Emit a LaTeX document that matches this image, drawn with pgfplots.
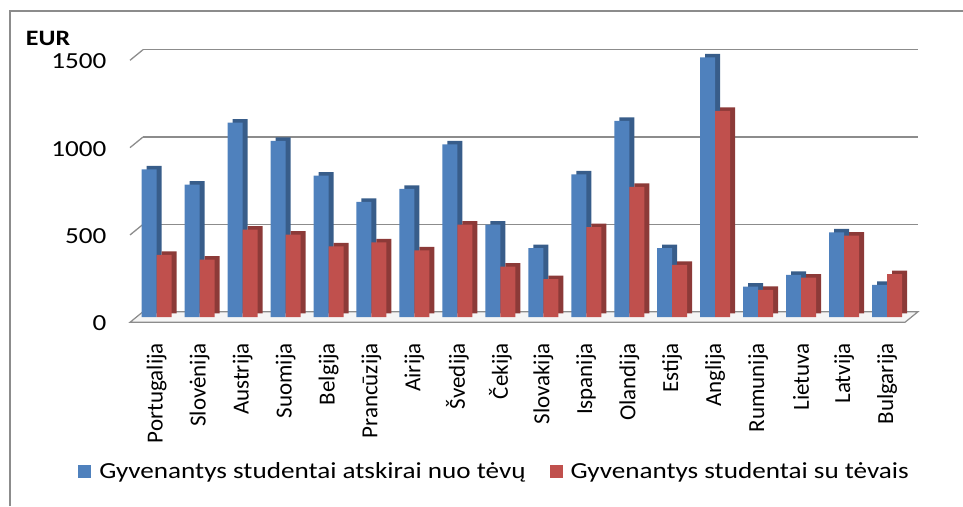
\documentclass[border=0pt]{standalone}
\usepackage{fontspec}
\usepackage{pgfplots}
\pgfplotsset{compat=1.18}
\newfontfamily\chartfont[FakeStretch=1.18]{Carlito}
\newfontfamily\rotfont{Carlito}
\definecolor{bluefront}{HTML}{4F81BD}
\definecolor{blueside}{HTML}{385D8A}
\definecolor{redfront}{HTML}{C0504D}
\definecolor{redside}{HTML}{8C3A38}
\definecolor{gridc}{HTML}{8C8C8C}
\pgfplotstableread{
x blue red
0 845 356
1 758 328
2 1113 500
3 1008 471
4 810 404
5 659 427
6 734 381
7 989 529
8 529 289
9 395 217
10 816 515
11 1123 745
12 395 299
13 1487 1180
14 174 155
15 241 226
16 484 466
17 184 245
}\datatable
\begin{document}
\begin{tikzpicture}
\useasboundingbox (0,0) rectangle (963pt,506pt);
\draw[gridc, line width=1.3pt] (10pt,0pt) -- (10pt,495pt) -- (963pt,495pt);
\begin{axis}[
  at={(136.5pt,189pt)}, anchor=south west,
  scale only axis, width=775pt, height=262pt,
  xmin=-0.47, xmax=17.57, ymin=0, ymax=1500,
  clip=false,
  axis line style={draw=none},
  tick style={draw=none},
  xtick=data,
  xticklabels={Portugalija,Slovėnija,Austrija,Suomija,Belgija,Prancūzija,Airija,Švedija,Čekija,Slovakija,Ispanija,Olandija,Estija,Anglija,Rumunija,Lietuva,Latvija,Bulgarija},
  xticklabel style={font=\rotfont\fontsize{23}{27}\selectfont, rotate=90, anchor=east, inner sep=0pt},
  xticklabel shift=26pt,
  ytick={0,500,1000,1500},
  /pgf/number format/assume math mode=true,
  /pgf/number format/1000 sep={},
  yticklabel style={font=\chartfont\fontsize{23}{27}\selectfont, anchor=east, inner sep=0pt, xshift=-30pt, yshift=-6.5pt},
  ymajorgrids,
  major grid style={gridc, line width=1.3pt, xshift=6.5pt, yshift=5.3pt},
  ylabel={EUR},
  ylabel style={font=\chartfont\fontsize{22}{26}\selectfont\bfseries, rotate=-90, at={(rel axis cs:0,1)}, anchor=center, xshift=-88.5pt, yshift=17pt},
  legend columns=2,
  legend style={draw=none, fill=none, at={(rel axis cs:0.462,-0.588)}, anchor=center,
    font=\chartfont\fontsize{23}{27}\selectfont,
    /tikz/every odd column/.append style={column sep=6pt},
    /tikz/every even column/.append style={column sep=22pt}},
  legend image code/.code={\fill[#1, draw=none] (0pt,-6.5pt) rectangle (13pt,6.5pt);},
]
% floor
\draw[gridc, line width=1.2pt, fill=gray!8]
  ([xshift=6.5pt,yshift=5.3pt]axis cs:-0.47,0) -- ([xshift=6.5pt,yshift=5.3pt]axis cs:17.57,0)
  -- ([xshift=-6.5pt,yshift=-5.3pt]axis cs:17.57,0) -- ([xshift=-6.5pt,yshift=-5.3pt]axis cs:-0.47,0) -- cycle;
\pgfplotsinvokeforeach{500,1000,1500}{
  \draw[gridc, line width=1.3pt] ([xshift=6.5pt,yshift=5.3pt]axis cs:-0.47,#1) -- ([xshift=-6.5pt,yshift=-5.3pt]axis cs:-0.47,#1);
}
\addplot[ybar, bar width=15pt, bar shift=-7.5pt, fill=blueside, draw=none, xshift=5pt, yshift=3.5pt, forget plot] table[x=x,y=blue] {\datatable};
\addplot[ybar, bar width=15pt, bar shift=-7.5pt, fill=bluefront, draw=none] table[x=x,y=blue] {\datatable};
\addlegendentry{Gyvenantys studentai atskirai nuo tėvų}
\addplot[ybar, bar width=15pt, bar shift=7.5pt, fill=redside, draw=none, xshift=5pt, yshift=3.5pt, forget plot] table[x=x,y=red] {\datatable};
\addplot[ybar, bar width=15pt, bar shift=7.5pt, fill=redfront, draw=none] table[x=x,y=red] {\datatable};
\addlegendentry{Gyvenantys studentai su tėvais}
\end{axis}
\end{tikzpicture}
\end{document}
